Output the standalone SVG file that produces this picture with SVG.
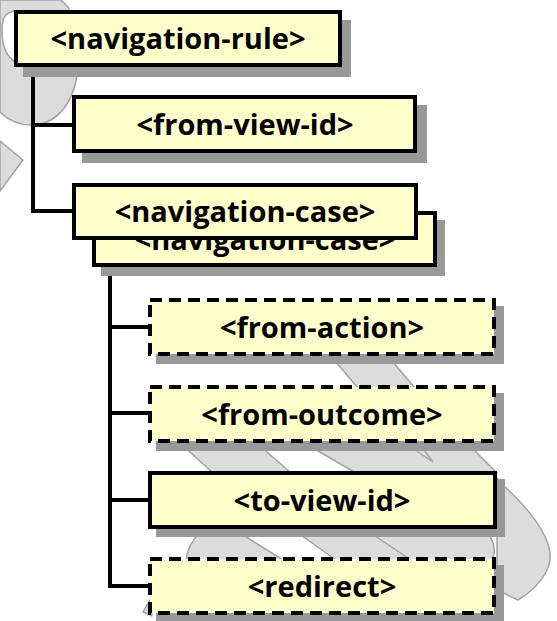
<svg xmlns="http://www.w3.org/2000/svg" width="557" height="621" viewBox="0 0 557 621">
<style>
  .bg { fill: #dcdcdc; stroke: #a3a3a3; stroke-width: 1.5; stroke-linejoin: round; }
  .bgw { fill: #ffffff; stroke: #a3a3a3; stroke-width: 1.5; }
  .bgl { fill: none; stroke: #a3a3a3; stroke-width: 1.5; }
  .shadow { fill: #999999; }
  .box { fill: #ffffcc; stroke: #000000; stroke-width: 4; }
  .dashed { stroke-dasharray: 12 7; }
  .conn { fill: none; stroke: #000000; stroke-width: 4; stroke-linejoin: miter; }
  .lbl { font-family: "Open Sans", "DejaVu Sans", sans-serif; font-weight: bold; font-size: 29px; fill: #000000; text-anchor: middle; }
</style>
<rect width="557" height="621" fill="#ffffff"/>
<g id="background">
  <path class="bg" d="M 0 0 L 60 0 C 70 5 78 20 78 60 C 78 95 62 122 35 125 C 20 126 8 120 0 112 Z"/>
  <path class="bgw" d="M 16 11 C 6 12 2 16 2 30 C 2 45 5 55 16 63 Z"/>
  <path class="bg" d="M 0 141 L 23 160 L 0 191 Z"/>
  <path class="bg" d="M 335 361 L 392 361 L 415 388 L 358 388 Z"/>
  <path class="bg" d="M 181 444 L 258 444 L 291 473 L 213 473 Z"/>
  <path class="bg" d="M 306 444 L 468 444 L 497 473 L 356 473 Z"/>
  <path class="bgl" d="M 412 448 L 433 462 L 424 450"/>
  <path class="bg" d="M 200 533 C 192 540 187 550 186 560 L 283 560 L 240 533 Z"/>
  <path class="bg" d="M 298 533 L 336 560 L 492 560 C 496 552 494 542 488 533 Z"/>
  <path class="bgl" d="M 372 534 L 408 558"/>
  <path class="bg" d="M 497 478 L 505 487 C 525 505 548 532 550 553 C 552 572 535 590 518 600 L 497 590 Z"/>
  <path class="bg" d="M 150 600 L 143 612 L 152 616 Z"/>
</g>
<g id="connectors">
  <path class="conn" d="M 33 66 L 33 211 L 74 211 M 33 125 L 74 125"/>
  <path class="conn" d="M 110 266 L 110 586 L 150 586 M 110 327 L 150 327 M 110 413 L 150 413 M 110 500 L 150 500"/>
</g>
<g id="navigation-rule">
  <rect class="shadow" x="23" y="20" width="328" height="57"/>
  <rect class="box" x="16" y="12" width="324" height="53"/>
  <text class="lbl" x="178" y="49">&lt;navigation-rule&gt;</text>
</g>
<g id="from-view-id">
  <rect class="shadow" x="82" y="105" width="345" height="58"/>
  <rect class="box" x="74" y="97" width="341" height="54"/>
  <text class="lbl" x="245" y="135">&lt;from-view-id&gt;</text>
</g>
<g id="navigation-case-back">
  <rect class="shadow" x="101" y="220" width="344" height="56"/>
  <rect class="box" x="94" y="213" width="341" height="52"/>
  <text class="lbl" x="265" y="250">&lt;navigation-case&gt;</text>
</g>
<g id="navigation-case">
  <rect class="box" x="74" y="185" width="342" height="53"/>
  <text class="lbl" x="245" y="222">&lt;navigation-case&gt;</text>
</g>
<g id="from-action">
  <rect class="shadow" x="156" y="306" width="348" height="58"/>
  <rect class="box dashed" x="150" y="300" width="344" height="54"/>
  <text class="lbl" x="322" y="338">&lt;from-action&gt;</text>
</g>
<g id="from-outcome">
  <rect class="shadow" x="156" y="393" width="348" height="58"/>
  <rect class="box dashed" x="150" y="387" width="344" height="54"/>
  <text class="lbl" x="322" y="425">&lt;from-outcome&gt;</text>
</g>
<g id="to-view-id">
  <rect class="shadow" x="156" y="479" width="349" height="58"/>
  <rect class="box" x="150" y="473" width="345" height="54"/>
  <text class="lbl" x="322" y="511">&lt;to-view-id&gt;</text>
</g>
<g id="redirect">
  <rect class="shadow" x="156" y="565" width="348" height="56"/>
  <rect class="box dashed" x="150" y="559" width="344" height="54"/>
  <text class="lbl" x="322" y="597">&lt;redirect&gt;</text>
</g>
</svg>
